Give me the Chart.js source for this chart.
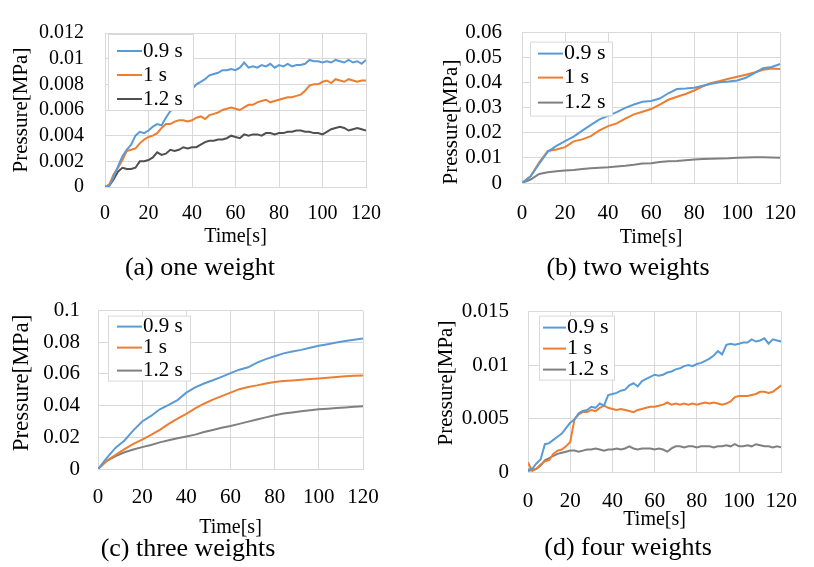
<!DOCTYPE html>
<html>
<head>
<meta charset="utf-8">
<script src="https://cdn.jsdelivr.net/npm/chart.js@4.4.1/dist/chart.umd.min.js"></script>
<style>
  body { margin: 0; background: #fff; width: 814px; height: 567px; position: relative; overflow: hidden;
         font-family: "Liberation Serif", "Times New Roman", serif; color: #000; }
  canvas { position: absolute; }
  .ytitle, .caption { position: absolute; white-space: nowrap; line-height: 1; }
  .ytitle { transform: translate(-50%, -50%) rotate(-90deg); }
  .caption { transform: translate(-50%, -50%); }
</style>
</head>
<body>
<canvas id="chartA" style="left:28px;top:0px" width="382" height="250"></canvas>
<canvas id="chartB" style="left:460px;top:0px" width="354" height="250"></canvas>
<canvas id="chartC" style="left:28px;top:280px" width="382" height="260"></canvas>
<canvas id="chartD" style="left:460px;top:280px" width="354" height="260"></canvas>

<div class="ytitle" style="left:20px;top:110px;font-size:21px">Pressure[MPa]</div>
<div class="ytitle" style="left:450px;top:122px;font-size:21px">Pressure[MPa]</div>
<div class="ytitle" style="left:20px;top:383px;font-size:23px">Pressure[MPa]</div>
<div class="ytitle" style="left:445px;top:383px;font-size:21px">Pressure[MPa]</div>

<div class="caption" style="left:200px;top:267px;font-size:26px">(a) one weight</div>
<div class="caption" style="left:628px;top:267px;font-size:26px">(b) two weights</div>
<div class="caption" style="left:188px;top:548px;font-size:26px">(c) three weights</div>
<div class="caption" style="left:628px;top:547px;font-size:26px">(d) four weights</div>

<script>
const seriesNames = ["0.9 s", "1 s", "1.2 s"];

// time axis, 2 s steps for the noisy panels (a, d), 4 s for the smooth ones (b, c)
const time2 = [0,2,4,6,8,10,12,14,16,18,20,22,24,26,28,30,32,34,36,38,40,42,44,46,48,50,52,54,56,58,60,
  62,64,66,68,70,72,74,76,78,80,82,84,86,88,90,92,94,96,98,100,102,104,106,108,110,112,114,116,118,120];
const time4 = [0,4,8,12,16,20,24,28,32,36,40,44,48,52,56,60,64,68,72,76,80,84,88,92,96,100,104,108,112,116,120];

// (a) one weight
const oneW09 = [0,0.0001,0.0008,0.0016,0.0024,0.0029,0.0033,0.0040,0.0043,0.0042,0.0044,0.0047,0.0049,0.0048,0.0054,
  0.0059,0.0062,0.0064,0.0067,0.0072,0.0076,0.0080,0.0082,0.0084,0.0087,0.0088,0.0089,0.0091,0.0091,0.0092,0.0091,
  0.0093,0.0097,0.0093,0.0094,0.0093,0.0095,0.0094,0.0096,0.0093,0.0095,0.0094,0.0096,0.0094,0.0095,0.0095,0.0096,
  0.0099,0.0098,0.0098,0.0097,0.0098,0.0097,0.0099,0.0098,0.0097,0.0099,0.0097,0.0098,0.0096,0.0099];
const oneW10 = [0,0.0002,0.0010,0.0015,0.0021,0.0028,0.0029,0.0030,0.0034,0.0037,0.0039,0.0040,0.0042,0.0046,0.0049,
  0.0049,0.0051,0.0052,0.0052,0.0051,0.0052,0.0054,0.0055,0.0053,0.0056,0.0057,0.0058,0.0060,0.0061,0.0062,0.0061,
  0.0060,0.0062,0.0064,0.0064,0.0066,0.0067,0.0068,0.0066,0.0067,0.0068,0.0069,0.0070,0.0070,0.0071,0.0072,0.0075,
  0.0079,0.0080,0.0080,0.0082,0.0083,0.0081,0.0084,0.0083,0.0082,0.0084,0.0083,0.0082,0.0083,0.0083];
const oneW12 = [0,0.0001,0.0006,0.0012,0.0015,0.0014,0.0014,0.0015,0.0020,0.0020,0.0021,0.0023,0.0027,0.0025,0.0026,
  0.0029,0.0028,0.0029,0.0031,0.0030,0.0031,0.0031,0.0033,0.0035,0.0036,0.0036,0.0037,0.0037,0.0038,0.0040,0.0039,
  0.0038,0.0041,0.0040,0.0041,0.0041,0.0040,0.0042,0.0042,0.0041,0.0042,0.0042,0.0043,0.0043,0.0044,0.0044,0.0043,
  0.0043,0.0042,0.0042,0.0041,0.0043,0.0045,0.0046,0.0047,0.0046,0.0044,0.0045,0.0046,0.0045,0.0044];

// (b) two weights
const twoW09 = [0,0.0027,0.0077,0.0125,0.0148,0.0167,0.0185,0.0209,0.0232,0.0254,0.0268,0.0283,0.0300,0.0313,0.0324,
  0.0327,0.0337,0.0358,0.0375,0.0377,0.0380,0.0388,0.0396,0.0402,0.0405,0.0409,0.0420,0.0438,0.0458,0.0463,0.0475];
const twoW10 = [0,0.0027,0.0083,0.0128,0.0134,0.0143,0.0166,0.0174,0.0187,0.0210,0.0227,0.0238,0.0257,0.0274,0.0284,
  0.0295,0.0313,0.0332,0.0344,0.0355,0.0369,0.0386,0.0399,0.0407,0.0416,0.0424,0.0432,0.0441,0.0452,0.0457,0.0455];
const twoW12 = [0,0.0014,0.0036,0.0043,0.0047,0.0050,0.0052,0.0056,0.0059,0.0061,0.0063,0.0066,0.0069,0.0073,0.0078,
  0.0079,0.0084,0.0087,0.0088,0.0091,0.0094,0.0096,0.0097,0.0098,0.0099,0.0101,0.0102,0.0103,0.0103,0.0102,0.0101];

// (c) three weights
const threeW09 = [0,0.0070,0.0135,0.0180,0.0244,0.0300,0.0335,0.0377,0.0405,0.0435,0.0482,0.0515,0.0540,0.0560,0.0582,
  0.0605,0.0627,0.0642,0.0672,0.0694,0.0712,0.0730,0.0742,0.0752,0.0766,0.0778,0.0788,0.0798,0.0808,0.0816,0.0824];
const threeW10 = [0,0.0052,0.0090,0.0125,0.0158,0.0186,0.0215,0.0247,0.0285,0.0318,0.0348,0.0382,0.0412,0.0438,0.0460,
  0.0482,0.0504,0.0518,0.0528,0.0540,0.0549,0.0555,0.0559,0.0563,0.0568,0.0572,0.0576,0.0581,0.0585,0.0588,0.0591];
const threeW12 = [0,0.0052,0.0082,0.0106,0.0123,0.0138,0.0152,0.0168,0.0181,0.0194,0.0205,0.0217,0.0233,0.0246,0.0260,
  0.0272,0.0285,0.0299,0.0312,0.0326,0.0339,0.0350,0.0357,0.0364,0.0371,0.0377,0.0381,0.0385,0.0389,0.0393,0.0396];

// (d) four weights
const fourW09 = [0.0002,0.0003,0.0008,0.0012,0.0026,0.0027,0.0030,0.0033,0.0036,0.0041,0.0046,0.0049,0.0055,0.0057,0.0058,
  0.0061,0.0060,0.0064,0.0062,0.0072,0.0073,0.0074,0.0076,0.0077,0.0081,0.0083,0.0080,0.0085,0.0087,0.0089,0.0091,
  0.0090,0.0091,0.0093,0.0094,0.0096,0.0097,0.0099,0.0100,0.0099,0.0101,0.0102,0.0104,0.0106,0.0109,0.0113,0.0110,
  0.0119,0.0120,0.0119,0.0120,0.0121,0.0121,0.0124,0.0122,0.0123,0.0125,0.0120,0.0124,0.0123,0.0122];
const fourW10 = [0.0009,0.0001,0.0003,0.0007,0.0010,0.0011,0.0017,0.0020,0.0021,0.0024,0.0028,0.0049,0.0054,0.0056,0.0056,
  0.0058,0.0057,0.0060,0.0062,0.0060,0.0059,0.0058,0.0059,0.0058,0.0057,0.0056,0.0058,0.0059,0.0060,0.0061,0.0061,
  0.0062,0.0063,0.0065,0.0063,0.0064,0.0063,0.0064,0.0063,0.0064,0.0063,0.0064,0.0065,0.0064,0.0065,0.0064,0.0063,
  0.0064,0.0066,0.0070,0.0071,0.0071,0.0071,0.0072,0.0073,0.0075,0.0075,0.0074,0.0075,0.0078,0.0081];
const fourW12 = [0.0001,0.0002,0.0003,0.0006,0.0011,0.0013,0.0015,0.0017,0.0018,0.0019,0.0020,0.0020,0.0019,0.0020,0.0021,
  0.0021,0.0022,0.0021,0.0020,0.0021,0.0021,0.0022,0.0021,0.0022,0.0024,0.0022,0.0021,0.0022,0.0022,0.0022,0.0021,
  0.0022,0.0021,0.0019,0.0022,0.0024,0.0024,0.0023,0.0024,0.0024,0.0023,0.0024,0.0024,0.0024,0.0023,0.0024,0.0024,
  0.0025,0.0024,0.0026,0.0024,0.0024,0.0025,0.0024,0.0026,0.0025,0.0024,0.0024,0.0023,0.0024,0.0023];

const BLUE = "#5b9bd5", ORANGE = "#ed7d31";
const FONT = "'Liberation Serif', 'Times New Roman', serif";
const GRID = "#d9d9d9";

Chart.defaults.font.family = FONT;
Chart.defaults.color = "#000";
Chart.defaults.animation = false;

// white legend box with a thin border, drawn over the lines like the original
const boxLegend = {
  id: "boxLegend",
  afterDatasetsDraw(chart, args, o) {
    const ctx = chart.ctx;
    const x = chart.chartArea.left + o.dx;
    const y = chart.chartArea.top + o.dy;
    ctx.save();
    ctx.fillStyle = "#fff";
    ctx.fillRect(x, y, o.w, o.h);
    ctx.strokeStyle = GRID;
    ctx.lineWidth = 1;
    ctx.strokeRect(x + 0.5, y + 0.5, o.w, o.h);
    ctx.font = o.size + "px " + FONT;
    ctx.textBaseline = "middle";
    chart.data.datasets.forEach((ds, i) => {
      const ry = y + o.rows[i];
      ctx.strokeStyle = ds.borderColor;
      ctx.lineWidth = 2;
      ctx.beginPath();
      ctx.moveTo(x + o.lineX, ry);
      ctx.lineTo(x + o.lineX + o.lineW, ry);
      ctx.stroke();
      ctx.fillStyle = "#000";
      ctx.fillText(ds.label, x + o.lineX + o.lineW + 1, ry);
    });
    ctx.restore();
  }
};

function pts(times, vals) {
  return times.map((t, i) => ({ x: t, y: vals[i] }));
}

function makeChart(id, times, series, grayColor, p) {
  const colors = [BLUE, ORANGE, grayColor];
  new Chart(document.getElementById(id), {
    type: "line",
    data: {
      datasets: series.map((vals, i) => ({
        label: seriesNames[i],
        data: pts(times, vals),
        borderColor: colors[i],
        borderWidth: 2,
        pointRadius: 0,
        tension: 0
      }))
    },
    options: {
      responsive: false,
      layout: { padding: { top: p.padTop, right: p.padRight, left: 0, bottom: 0 } },
      plugins: { legend: { display: false }, tooltip: { enabled: false }, boxLegend: p.legend },
      scales: {
        x: {
          type: "linear", min: 0, max: 120,
          ticks: { stepSize: 20, padding: p.xPad, maxRotation: 0, autoSkip: false, font: { size: p.tick } },
          grid: { color: GRID, drawTicks: false },
          border: { color: GRID },
          title: { display: true, text: "Time[s]", font: { size: 20 }, padding: { top: 0, bottom: p.titlePad } },
          afterFit: (s) => { s.height = p.xH; }
        },
        y: {
          min: 0, max: p.yMax,
          ticks: { stepSize: p.yStep, padding: p.yPad, autoSkip: false, font: { size: p.tick },
                   callback: (v) => String(parseFloat(v.toFixed(6))) },
          grid: { color: GRID, drawTicks: false },
          border: { color: GRID },
          afterFit: (s) => { s.width = p.yW; }
        }
      }
    },
    plugins: [boxLegend]
  });
}

function drawAll() {
  makeChart("chartA", time2, [oneW09, oneW10, oneW12], "#505050", {
    padTop: 14, padRight: 44, xH: 63, yW: 77, yMax: 0.012, yStep: 0.002,
    tick: 20, xPad: 15, yPad: 21, titlePad: 1,
    legend: { dx: 3, dy: 1, w: 85, h: 76, lineX: 9, lineW: 25, rows: [17, 41, 65], size: 21 }
  });
  makeChart("chartB", time4, [twoW09, twoW10, twoW12], "#808080", {
    padTop: 15, padRight: 20, xH: 67, yW: 62, yMax: 0.06, yStep: 0.01,
    tick: 21, xPad: 18, yPad: 20, titlePad: 0,
    legend: { dx: 8, dy: 9, w: 82, h: 74, lineX: 8, lineW: 25, rows: [12, 36, 61], size: 22 }
  });
  makeChart("chartC", time4, [threeW09, threeW10, threeW12], "#808080", {
    padTop: 15, padRight: 47, xH: 71, yW: 70, yMax: 0.1, yStep: 0.02,
    tick: 21, xPad: 16, yPad: 18, titlePad: 0,
    legend: { dx: 10, dy: 5, w: 82, h: 65, lineX: 9, lineW: 25, rows: [11, 32, 55], size: 21 }
  });
  makeChart("chartD", time2, [fourW09, fourW10, fourW12], "#808080", {
    padTop: 14, padRight: 24, xH: 68, yW: 68, yMax: 0.015, yStep: 0.005,
    tick: 21, xPad: 17, yPad: 19, titlePad: 8,
    legend: { dx: 11, dy: 4, w: 75, h: 64, lineX: 4, lineW: 23, rows: [12, 33, 54], size: 22 }
  });
}

// make sure the serif face is ready before the canvases measure text
document.fonts.load("20px 'Liberation Serif'").then(drawAll, drawAll);
</script>
</body>
</html>
